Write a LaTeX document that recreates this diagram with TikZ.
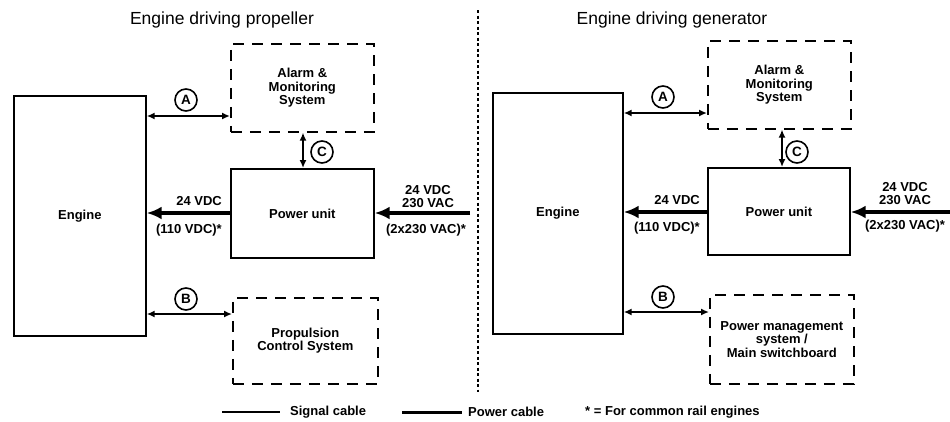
\documentclass[tikz,border=0pt]{standalone}
\usepackage{fontspec}
\setmainfont{Liberation Sans}
\usetikzlibrary{arrows.meta}
\begin{document}
\begin{tikzpicture}[x=1pt,y=-1pt,
 solidbox/.style={draw, line width=1.7pt, inner sep=0pt, anchor=north west},
 dashbox/.style={draw, line width=1.6pt, dash pattern=on 11pt off 8pt, inner sep=0pt, anchor=north west},
 lbl/.style={font=\fontsize{13}{13.5}\selectfont\bfseries, align=center, inner sep=0pt},
 ttl/.style={font=\fontsize{17.5}{20}\selectfont, inner sep=0pt},
 sig/.style={line width=1.7pt, {Latex[length=8pt,width=7pt]}-{Latex[length=8pt,width=7pt]}},
 pow/.style={line width=3.5pt, -{Latex[length=15pt,width=13pt]}},
 circ/.style={circle, draw, line width=1.6pt, minimum size=22pt, inner sep=0pt, font=\fontsize{13.5}{13.5}\selectfont\bfseries}
]
\useasboundingbox (0,0) rectangle (950,421);

% ---------- left panel ----------
\node[ttl] (ttl1) at (222,20) {Engine driving propeller};
\node[solidbox, minimum width=132pt, minimum height=240pt, lbl] (eng1) at (13,95) {Engine};
\node[dashbox, minimum width=143pt, minimum height=88pt, lbl] (alarm1) at (230,43) {Alarm \&\\Monitoring\\System};
\node[solidbox, minimum width=143pt, minimum height=89pt, lbl] (pu1) at (230,168) {Power unit};
\node[dashbox, minimum width=145pt, minimum height=86pt, lbl] (prop1) at (232,297) {Propulsion\\Control System};

\coordinate (ya1) at (0,116);
\coordinate (yb1) at (0,314);
\coordinate (yp1) at (0,213);
\coordinate (xc1) at (303,0);
\coordinate (in1) at (470,213);

\draw[sig] (eng1.east |- ya1) -- (alarm1.west |- ya1);
\draw[sig] (eng1.east |- yb1) -- (prop1.west |- yb1);
\draw[sig] (alarm1.south -| xc1) -- (pu1.north -| xc1);
\draw[pow] (pu1.west |- yp1) -- (eng1.east |- yp1);
\draw[pow] (in1) -- (pu1.east |- yp1);

\node[circ] (ca1) at (186,100) {A};
\node[circ] (cb1) at (186,299) {B};
\node[circ] (cc1) at (322,152) {C};

\node[lbl, anchor=east] (v1a) at (222,201) {24 VDC};
\node[lbl, anchor=east] (v1b) at (222,230) {(110 VDC)*};
\node[lbl] (v1c) at (428,196.5) {24 VDC\\230 VAC};
\node[lbl] (v1d) at (426,230) {(2x230 VAC)*};

% ---------- divider ----------
\coordinate (d1) at (478,10);
\coordinate (d2) at (478,392);
\draw[line width=2.5pt, dash pattern=on 3pt off 2.5pt] (d1) -- (d2);

% ---------- right panel ----------
\node[ttl] (ttl2) at (672,20) {Engine driving generator};
\node[solidbox, minimum width=130pt, minimum height=241pt, lbl] (eng2) at (492,92) {Engine};
\node[dashbox, minimum width=143pt, minimum height=88pt, lbl] (alarm2) at (707,40) {Alarm \&\\Monitoring\\System};
\node[solidbox, minimum width=142pt, minimum height=87pt, lbl] (pu2) at (707,167) {Power unit};
\node[dashbox, minimum width=144pt, minimum height=89pt, lbl] (pms) at (709,294) {Power management\\system /\\Main switchboard};

\coordinate (ya2) at (0,113);
\coordinate (yb2) at (0,312);
\coordinate (yp2) at (0,212);
\coordinate (xc2) at (782,0);
\coordinate (in2) at (950,212);

\draw[sig] (eng2.east |- ya2) -- (alarm2.west |- ya2);
\draw[sig] (eng2.east |- yb2) -- (pms.west |- yb2);
\draw[sig] (alarm2.south -| xc2) -- (pu2.north -| xc2);
\draw[pow] (pu2.west |- yp2) -- (eng2.east |- yp2);
\draw[pow] (in2) -- (pu2.east |- yp2);

\node[circ] (ca2) at (663,97) {A};
\node[circ] (cb2) at (663,297) {B};
\node[circ] (cc2) at (797,152) {C};

\node[lbl, anchor=east] (v2a) at (700,200) {24 VDC};
\node[lbl, anchor=east] (v2b) at (700,228) {(110 VDC)*};
\node[lbl] (v2c) at (905,193.5) {24 VDC\\230 VAC};
\node[lbl] (v2d) at (905,226) {(2x230 VAC)*};

% ---------- legend ----------
\coordinate (ls1) at (222,412);
\coordinate (ls2) at (280,412);
\coordinate (lp1) at (402,412);
\coordinate (lp2) at (462,412);
\draw[line width=1.2pt] (ls1) -- (ls2);
\node[lbl, anchor=west] (lgs) at (290,412) {Signal cable};
\draw[line width=3pt] (lp1) -- (lp2);
\node[lbl, anchor=west] (lgp) at (468,412) {Power cable};
\node[lbl, anchor=west] (lgc) at (585,412) {* = For common rail engines};
\end{tikzpicture}
\end{document}
